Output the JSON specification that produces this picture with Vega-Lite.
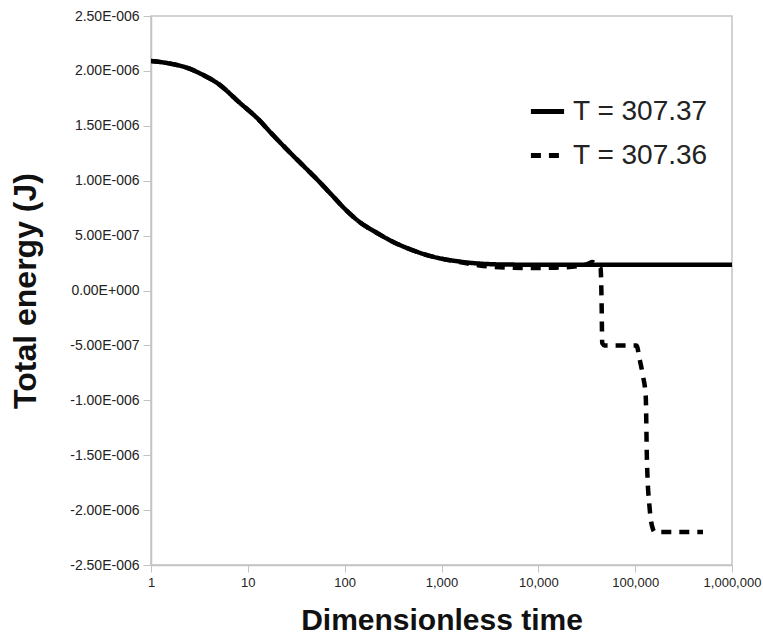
{
  "$schema": "https://vega.github.io/schema/vega-lite/v6.json",
  "width": 581,
  "height": 549,
  "autosize": {"type": "none"},
  "padding": {"left": 151, "top": 16, "right": 31, "bottom": 75},
  "background": "white",
  "config": {
    "view": {"stroke": "#c4c4c4", "strokeWidth": 1.5},
    "font": "Liberation Sans"
  },
  "datasets": {
    "curves": [
      {"t": 1, "e": 2.09e-6, "s": "T = 307.37"},
      {"t": 1.5, "e": 2.07e-6, "s": "T = 307.37"},
      {"t": 2.5, "e": 2.02e-6, "s": "T = 307.37"},
      {"t": 3.5, "e": 1.96e-6, "s": "T = 307.37"},
      {"t": 5, "e": 1.88e-6, "s": "T = 307.37"},
      {"t": 8, "e": 1.72e-6, "s": "T = 307.37"},
      {"t": 13.1, "e": 1.552e-6, "s": "T = 307.37"},
      {"t": 18, "e": 1.42e-6, "s": "T = 307.37"},
      {"t": 26.7, "e": 1.264e-6, "s": "T = 307.37"},
      {"t": 38, "e": 1.13e-6, "s": "T = 307.37"},
      {"t": 50.5, "e": 1.022e-6, "s": "T = 307.37"},
      {"t": 70, "e": 0.89e-6, "s": "T = 307.37"},
      {"t": 103, "e": 0.734e-6, "s": "T = 307.37"},
      {"t": 141, "e": 0.627e-6, "s": "T = 307.37"},
      {"t": 210, "e": 0.53e-6, "s": "T = 307.37"},
      {"t": 313, "e": 0.445e-6, "s": "T = 307.37"},
      {"t": 460, "e": 0.38e-6, "s": "T = 307.37"},
      {"t": 693, "e": 0.325e-6, "s": "T = 307.37"},
      {"t": 1000, "e": 0.29e-6, "s": "T = 307.37"},
      {"t": 1531, "e": 0.264e-6, "s": "T = 307.37"},
      {"t": 2466, "e": 0.245e-6, "s": "T = 307.37"},
      {"t": 5000, "e": 0.236e-6, "s": "T = 307.37"},
      {"t": 10000, "e": 0.235e-6, "s": "T = 307.37"},
      {"t": 1000000, "e": 0.235e-6, "s": "T = 307.37"},
      {"t": 1, "e": 2.09e-6, "s": "T = 307.36"},
      {"t": 1.5, "e": 2.07e-6, "s": "T = 307.36"},
      {"t": 2.5, "e": 2.02e-6, "s": "T = 307.36"},
      {"t": 3.5, "e": 1.96e-6, "s": "T = 307.36"},
      {"t": 5, "e": 1.88e-6, "s": "T = 307.36"},
      {"t": 8, "e": 1.72e-6, "s": "T = 307.36"},
      {"t": 13.1, "e": 1.552e-6, "s": "T = 307.36"},
      {"t": 18, "e": 1.42e-6, "s": "T = 307.36"},
      {"t": 26.7, "e": 1.264e-6, "s": "T = 307.36"},
      {"t": 38, "e": 1.13e-6, "s": "T = 307.36"},
      {"t": 50.5, "e": 1.022e-6, "s": "T = 307.36"},
      {"t": 70, "e": 0.89e-6, "s": "T = 307.36"},
      {"t": 103, "e": 0.734e-6, "s": "T = 307.36"},
      {"t": 141, "e": 0.627e-6, "s": "T = 307.36"},
      {"t": 210, "e": 0.53e-6, "s": "T = 307.36"},
      {"t": 313, "e": 0.445e-6, "s": "T = 307.36"},
      {"t": 460, "e": 0.38e-6, "s": "T = 307.36"},
      {"t": 693, "e": 0.325e-6, "s": "T = 307.36"},
      {"t": 1000, "e": 0.29e-6, "s": "T = 307.36"},
      {"t": 1531, "e": 0.26e-6, "s": "T = 307.36"},
      {"t": 2466, "e": 0.228e-6, "s": "T = 307.36"},
      {"t": 4000, "e": 0.212e-6, "s": "T = 307.36"},
      {"t": 8000, "e": 0.205e-6, "s": "T = 307.36"},
      {"t": 15000, "e": 0.208e-6, "s": "T = 307.36"},
      {"t": 25000, "e": 0.22e-6, "s": "T = 307.36"},
      {"t": 33000, "e": 0.245e-6, "s": "T = 307.36"},
      {"t": 36000, "e": 0.26e-6, "s": "T = 307.36"},
      {"t": 40000, "e": 0.23e-6, "s": "T = 307.36"},
      {"t": 44000, "e": 0.2e-6, "s": "T = 307.36"},
      {"t": 45000, "e": -0.1e-6, "s": "T = 307.36"},
      {"t": 45700, "e": -0.48e-6, "s": "T = 307.36"},
      {"t": 48400, "e": -0.5e-6, "s": "T = 307.36"},
      {"t": 103000, "e": -0.5e-6, "s": "T = 307.36"},
      {"t": 111400, "e": -0.63e-6, "s": "T = 307.36"},
      {"t": 120500, "e": -0.78e-6, "s": "T = 307.36"},
      {"t": 128500, "e": -0.96e-6, "s": "T = 307.36"},
      {"t": 132500, "e": -1.57e-6, "s": "T = 307.36"},
      {"t": 141300, "e": -1.99e-6, "s": "T = 307.36"},
      {"t": 152800, "e": -2.175e-6, "s": "T = 307.36"},
      {"t": 160000, "e": -2.2e-6, "s": "T = 307.36"},
      {"t": 502000, "e": -2.2e-6, "s": "T = 307.36"}
    ]
  },
  "layer": [
    {
      "mark": {"type": "rule", "color": "#c4c4c4", "strokeWidth": 1.5},
      "encoding": {"y": {"datum": 0, "type": "quantitative", "scale": {"domain": [-2.5e-6, 2.5e-6]}}}
    },
    {
      "data": {"name": "curves"},
      "mark": {"type": "line", "strokeWidth": 4.5, "color": "black", "strokeCap": "butt", "interpolate": "monotone", "clip": true},
      "encoding": {
        "x": {
          "field": "t", "type": "quantitative",
          "scale": {"type": "log", "domain": [1, 1000000], "nice": false},
          "axis": {
            "values": [1, 10, 100, 1000, 10000, 100000, 1000000],
            "format": ",d",
            "title": "Dimensionless time",
            "titleFont": "Liberation Sans",
            "titleFontSize": 30,
            "titleFontWeight": "bold",
            "titleColor": "#111",
            "titlePadding": 16,
            "labelFont": "Liberation Sans",
            "labelFontSize": 13,
            "labelColor": "#222",
            "labelPadding": 4,
            "labelFlush": false,
            "domainColor": "#c4c4c4",
            "domainWidth": 1.5,
            "tickColor": "#c4c4c4",
            "tickSize": 7,
            "grid": false
          }
        },
        "y": {
          "field": "e", "type": "quantitative",
          "scale": {"domain": [-2.5e-6, 2.5e-6], "nice": false},
          "axis": {
            "values": [-2.5e-6, -2e-6, -1.5e-6, -1e-6, -0.5e-6, 0, 0.5e-6, 1e-6, 1.5e-6, 2e-6, 2.5e-6],
            "labelExpr": "datum.value == 0 ? '0.00E+000' : (datum.value < 0 ? '-' : '') + format(abs(datum.value) / pow(10, floor(log(abs(datum.value)) / LN10 + 1e-9)), '.2f') + 'E-' + format(-floor(log(abs(datum.value)) / LN10 + 1e-9), '03d')",
            "title": "Total energy (J)",
            "titleFont": "Liberation Sans",
            "titleFontSize": 32,
            "titleFontWeight": "bold",
            "titleColor": "#111",
            "titlePadding": 27,
            "labelFont": "Liberation Sans",
            "labelFontSize": 14,
            "labelColor": "#222",
            "labelPadding": 4,
            "domainColor": "#c4c4c4",
            "domainWidth": 1.5,
            "tickColor": "#c4c4c4",
            "tickSize": 8,
            "grid": false
          }
        },
        "detail": {"field": "s"},
        "strokeDash": {
          "field": "s", "type": "nominal",
          "scale": {"domain": ["T = 307.37", "T = 307.36"], "range": [[1, 0], [10, 8]]},
          "legend": {
            "title": null,
            "orient": "none",
            "legendX": 377,
            "legendY": 76,
            "symbolType": "stroke",
            "symbolStrokeWidth": 5,
            "symbolSize": 1100,
            "symbolStrokeColor": "black",
            "labelFont": "Liberation Sans",
            "labelFontSize": 28,
            "labelColor": "#222",
            "labelOffset": 6,
            "rowPadding": 10
          }
        }
      }
    }
  ]
}
